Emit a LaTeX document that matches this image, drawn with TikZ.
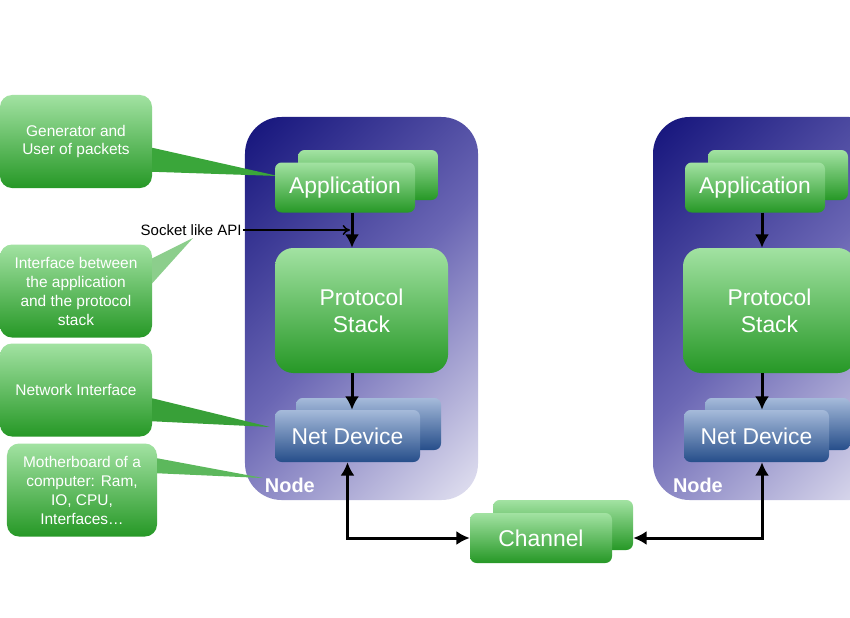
\documentclass[tikz,border=0pt]{standalone}
\usepackage{fontspec}
\setmainfont{Liberation Sans}
\usepackage{tikz}
\usetikzlibrary{calc, positioning, arrows.meta}
\definecolor{navyTop}{RGB}{0,0,110}
\definecolor{navyMid}{RGB}{106,102,180}
\definecolor{navyLow}{RGB}{255,255,255}
\definecolor{greenTop}{RGB}{162,226,162}
\definecolor{greenLow}{RGB}{38,152,38}
\definecolor{blueTop}{RGB}{165,186,218}
\definecolor{blueLow}{RGB}{38,78,138}
\definecolor{tailGen}{RGB}{58,166,58}
\definecolor{tailIface}{RGB}{140,206,140}
\definecolor{tailNetIf}{RGB}{56,160,56}
\definecolor{tailBoard}{RGB}{92,184,92}
\tikzset{
    nodeBox/.style={rectangle, rounded corners=1.1cm, minimum width=6.99cm, minimum height=11.49cm,
        path picture={\shade[top color=navyTop, bottom color=navyLow, middle color=navyMid, shading angle=45]
            ($(path picture bounding box.center)+(-8cm,-8cm)$) rectangle ($(path picture bounding box.center)+(8cm,8cm)$);}},
    nodeLabel/.style={text=white, inner sep=0pt, font=\fontsize{17}{20}\selectfont\bfseries},
    card/.style={rectangle, rounded corners=0.2cm, top color=greenTop, bottom color=greenLow, text=white, inner sep=0pt, minimum width=4.2cm, minimum height=1.5cm, font=\fontsize{19.5}{23}\selectfont},
    device/.style={card, top color=blueTop, bottom color=blueLow, minimum width=4.35cm, minimum height=1.56cm},
    stack/.style={card, rounded corners=0.55cm, minimum width=5.19cm, minimum height=3.75cm, align=center},
    callout/.style={rectangle, rounded corners=0.36cm, top color=greenTop, bottom color=greenLow, text=white, align=center, inner sep=0pt, minimum width=4.56cm, minimum height=2.79cm, font=\fontsize{13.2}{16.2}\selectfont},
    apiText/.style={inner sep=1pt, font=\fontsize{12.8}{15}\selectfont},
    arrow/.style={-{Latex[length=0.4cm, width=0.42cm]}, line width=0.09cm},
    biArrow/.style={{Latex[length=0.4cm, width=0.42cm]}-{Latex[length=0.4cm, width=0.42cm]}, line width=0.09cm},
    apiArrow/.style={-{To[length=0.22cm, width=0.3cm]}, line width=0.045cm}
}

\begin{document}
\begin{tikzpicture}[x=0.03cm, y=-0.03cm]
    \clip (0,0) rectangle (850,617);
    \fill[white] (0,0) rectangle (850,617);

    \node[callout] (Gen) at (76,141.5) {Generator and\\User of packets};
    \node[callout] (Iface) at (76,291) {Interface between\\the application\\and the protocol\\stack};
    \node[callout] (NetIf) at (76,390) {Network Interface};
    \node[callout, minimum width=4.5cm] (Board) at (82,490) {Motherboard of a\\computer: Ram,\\IO, CPU,\\Interfaces…};

    \node[nodeBox] (NodeA) at (361.5,308.5) {};
    \node[nodeBox] (NodeB) at (769.5,308.5) {};

    % callout pointers
    \coordinate (GenTip) at (278,176);
    \coordinate (IfaceTip) at (193,238);
    \coordinate (NetIfTip) at (270,427);
    \coordinate (BoardTip) at (263,478);
    \fill[tailGen] ($(Gen.north east)+(0,53)$) -- (GenTip) -- ($(Gen.north east)+(0,77)$) -- cycle;
    \fill[tailIface] ($(Iface.north east)+(0,14)$) -- (IfaceTip) -- ($(Iface.north east)+(0,39)$) -- cycle;
    \fill[tailNetIf] ($(NetIf.north east)+(0,55)$) -- (NetIfTip) -- ($(NetIf.north east)+(0,78)$) -- cycle;
    \fill[tailBoard] ($(Board.north east)+(0,15)$) -- (BoardTip) -- ($(Board.north east)+(0,30)$) -- cycle;

    \node[card] (AppABack) at (368,175) {};
    \node[card] (AppA) at (345,187.5) {Application};
    \node[stack] (StackA) at (361.5,310.5) {Protocol\\Stack};
    \node[device] (DevABack) at (368.5,424) {};
    \node[device] (DevA) at (347.5,436) {Net Device};
    \node[nodeLabel, anchor=west] (LabelA) at ($(NodeA.south west)+(20,-15)$) {Node};

    \node[card] (AppBBack) at (778,175) {};
    \node[card] (AppB) at (755,187.5) {Application};
    \node[stack] (StackB) at (769.5,310.5) {Protocol\\Stack};
    \node[device] (DevBBack) at (777.5,424) {};
    \node[device] (DevB) at (756.5,436) {Net Device};
    \node[nodeLabel, anchor=west] (LabelB) at ($(NodeB.south west)+(20,-15)$) {Node};

    \node[card] (ChanBack) at (563,525) {};
    \node[card, minimum width=4.26cm] (Chan) at (541,538) {Channel};

    \coordinate (AxisA) at (352,0);
    \coordinate (AxisB) at (762,0);
    \draw[arrow] (AppA.south -| AxisA) -- (StackA.north -| AxisA);
    \draw[arrow] (StackA.south -| AxisA) -- (DevA.north -| AxisA);
    \draw[arrow] (AppB.south -| AxisB) -- (StackB.north -| AxisB);
    \draw[arrow] (StackB.south -| AxisB) -- (DevB.north -| AxisB);

    \node[apiText, anchor=east] (Socket) at (243,230) {Socket like API};
    \draw[apiArrow] (Socket.east) -- ($(Socket.east -| AxisA)+(-2,0)$);

    \draw[biArrow] (DevA.south) |- (Chan.west);
    \draw[biArrow] (DevB.south -| AxisB) |- (ChanBack.east |- Chan.east);
\end{tikzpicture}
\end{document}
